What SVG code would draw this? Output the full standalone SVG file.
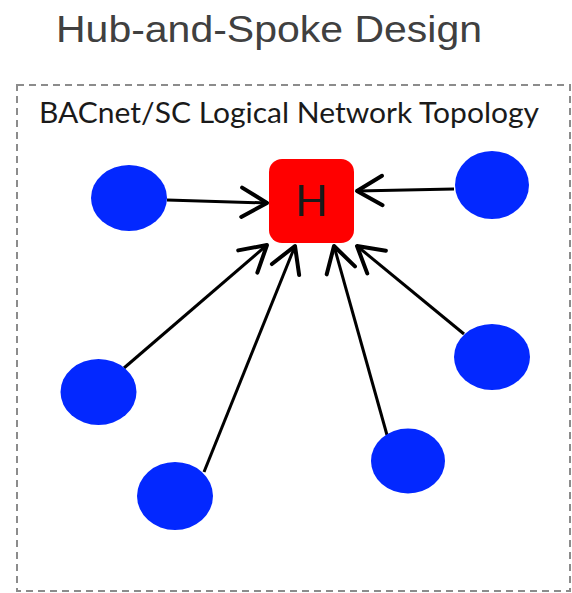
<svg xmlns="http://www.w3.org/2000/svg" width="572" height="593" viewBox="0 0 572 593">
<style>
.node{fill:#0328FF;}
.conn{stroke:#000;stroke-width:3;fill:none;marker-end:url(#arr);}
.title{font-family:"Liberation Sans",Arial,sans-serif;font-size:37px;fill:#404040;}
.sub{font-family:Lato,"Open Sans",sans-serif;font-size:28px;fill:#1a1a1a;}
</style>
<defs>
<marker id="arr" markerUnits="userSpaceOnUse" markerWidth="40" markerHeight="40" viewBox="-25 -15 30 30" refX="0" refY="0" orient="auto" overflow="visible">
<path d="M -19 -11 L 0 0 L -19 11" fill="none" stroke="#000" stroke-width="3" stroke-linecap="round" stroke-linejoin="round"/>
</marker>
</defs>
<rect width="572" height="593" fill="#fff"/>
<text class="title" x="56" y="42" textLength="426" lengthAdjust="spacingAndGlyphs">Hub-and-Spoke Design</text>
<rect x="17" y="85" width="553" height="506" fill="none" stroke="#8c8c8c" stroke-width="2" stroke-dasharray="7 5"/>
<text class="sub" x="39" y="123" textLength="500" lengthAdjust="spacingAndGlyphs">BACnet/SC Logical Network Topology</text>
<g id="connectors">
<line class="conn" x1="167" y1="200" x2="267" y2="203"/>
<line class="conn" x1="454" y1="189" x2="357" y2="191"/>
<line class="conn" x1="124" y1="368" x2="267" y2="245"/>
<line class="conn" x1="204" y1="472" x2="295" y2="246"/>
<line class="conn" x1="387" y1="435" x2="334" y2="246"/>
<line class="conn" x1="464" y1="334" x2="357" y2="246"/>
</g>
<g id="hub">
<rect x="269" y="159" width="85" height="84" rx="13" fill="#FF0000"/>
<text x="311.5" y="216" text-anchor="middle" font-family="Lato,'Open Sans',sans-serif" font-size="43" fill="#1a1a1a">H</text>
</g>
<g id="n1"><ellipse class="node" cx="129" cy="198" rx="38" ry="33"/></g>
<g id="n2"><ellipse class="node" cx="492" cy="185" rx="37" ry="34"/></g>
<g id="n3"><ellipse class="node" cx="98.5" cy="392" rx="38" ry="33"/></g>
<g id="n4"><ellipse class="node" cx="175" cy="496" rx="38" ry="34"/></g>
<g id="n5"><ellipse class="node" cx="408" cy="461" rx="37" ry="32.5"/></g>
<g id="n6"><ellipse class="node" cx="492" cy="357" rx="38" ry="33"/></g>
</svg>
